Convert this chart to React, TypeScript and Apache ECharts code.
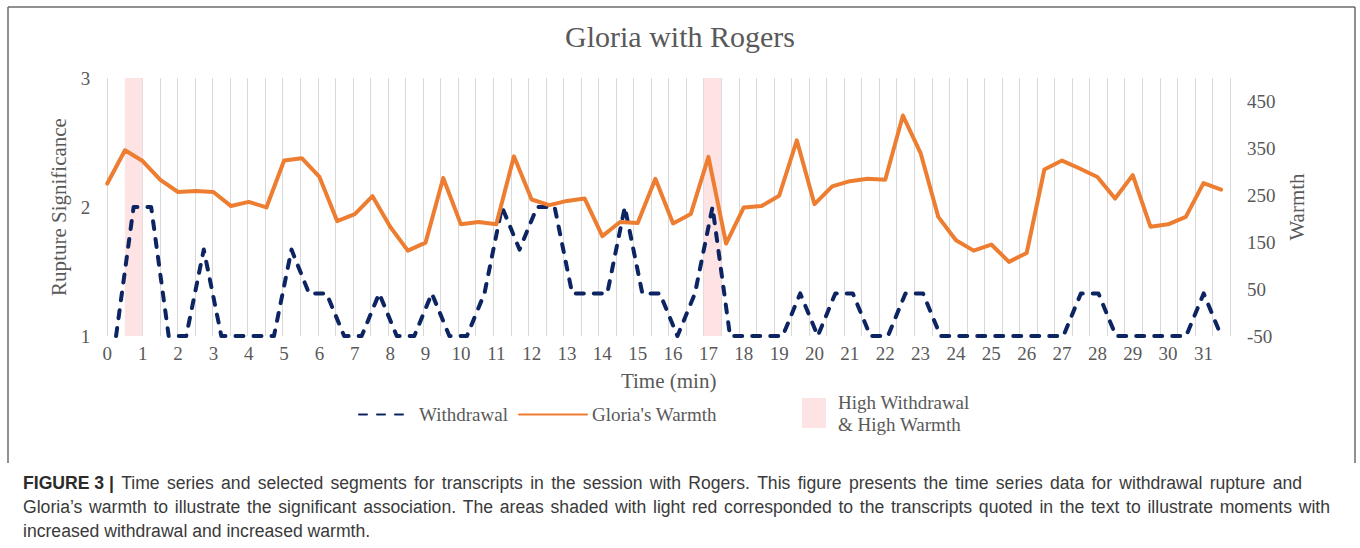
import React, { useEffect, useRef } from 'react';
import * as echarts from 'echarts';

const CHART_TITLE = 'Gloria with Rogers';
const LEFT_AXIS_NAME = 'Rupture Significance';
const RIGHT_AXIS_NAME = 'Warmth';
const X_AXIS_NAME = 'Time (min)';

// Gloria's warmth, one value per half minute (0, 0.5, ..., 31.5)
const warmth = [
  275, 346, 323, 283, 257, 259, 257, 227, 236, 224,
  324, 329, 289, 195, 210, 248, 183, 132, 149, 287,
  188, 193, 188, 333, 241, 229, 238, 243, 163, 193,
  191, 285, 190, 210, 332, 147, 224, 227, 249, 367,
  231, 269, 280, 285, 283, 420, 340, 204, 154, 132,
  145, 108, 127, 305, 324, 307, 289, 243, 293, 183,
  188, 204, 276, 262,
];
const warmthStep = 0.5; // minutes between warmth samples

// Withdrawal rupture significance, one value per transcript segment
const withdrawal = [
  1, 2, 2, 1, 1, 1.67, 1, 1, 1, 1,
  1.67, 1.33, 1.33, 1, 1, 1.33, 1, 1, 1.33, 1,
  1, 1.33, 2, 1.67, 2, 2, 1.33, 1.33, 1.33, 2,
  1.33, 1.33, 1, 1.33, 2, 1, 1, 1, 1, 1.33,
  1, 1.33, 1.33, 1, 1, 1.33, 1.33, 1, 1, 1,
  1, 1, 1, 1, 1, 1.33, 1.33, 1, 1, 1,
  1, 1, 1.33, 1,
];
const segmentIds = withdrawal.map((_, i) => 'S' + (i + 1));

// segments shaded light red (high withdrawal & high warmth)
const highSegments = [1, 34];

const leftTicks = { min: 1, max: 3, interval: 1 };
const rightTicks = { min: -50, max: 500, interval: 100 };
const timeRange = { min: 0, max: 31.75, interval: 1 };

const CAPTION_LABEL = 'FIGURE 3 |';
const CAPTION_LINES = [
  'Time series and selected segments for transcripts in the session with Rogers. This figure presents the time series data for withdrawal rupture and',
  "Gloria\u2019s warmth to illustrate the significant association. The areas shaded with light red corresponded to the transcripts quoted in the text to illustrate moments with",
  'increased withdrawal and increased warmth.',
];

const SERIF = "'Liberation Serif', 'Times New Roman', serif";
const SANS = "'Liberation Sans', Arial, sans-serif";
const GREY = '#595959';
const ORANGE = '#ED7D31';
const NAVY = '#0c2461';
const SHADE = '#FDE3E4';
const CAPTION_SIZE = 17.6;
const CAPTION_COLOR = '#3a3a3a';

function measure(text: string, bold: boolean) {
  const c = document.createElement('canvas').getContext('2d');
  if (!c) return text.length * CAPTION_SIZE * 0.5;
  c.font = (bold ? 'bold ' : '') + CAPTION_SIZE + "px 'Liberation Sans', Arial, sans-serif";
  return c.measureText(text).width;
}

// caption line whose word gaps are widened so that it ends where the original does
function spread(line: string, prefix: string, startX: number, endX: number) {
  const words = line.split(' ');
  const prefixW = prefix ? measure(prefix, true) : 0;
  const wordsW = words.reduce((s, w) => s + measure(w, false), 0);
  const gaps = words.length - 1 + (prefix ? 1 : 0);
  const gap = Math.max(3, (endX - startX - prefixW - wordsW) / gaps);
  let text = prefix ? '{b|' + prefix + '}{s| }' : '';
  text += words.join('{s| }');
  return {
    text,
    rich: {
      b: { fontFamily: SANS, fontSize: CAPTION_SIZE, fontWeight: 'bold', fill: '#2b2b2b' },
      s: { fontFamily: SANS, fontSize: CAPTION_SIZE, width: gap },
    },
  };
}

export default function App() {
  const ref = useRef<HTMLDivElement>(null);

  useEffect(() => {
    document.body.style.margin = '0';
    if (!ref.current) return;
    const chart = echarts.init(ref.current, null, { renderer: 'svg' });

    const labelStyle = { color: GREY, fontFamily: SERIF, fontSize: 19 };
    const nameStyle = { color: GREY, fontFamily: SERIF, fontSize: 21 };
    const hiddenSymbol = { color: 'rgba(0,0,0,0)', borderWidth: 0, opacity: 0 };

    const cap1 = spread(CAPTION_LINES[0], CAPTION_LABEL, 23, 1302);
    const cap2 = spread(CAPTION_LINES[1], '', 23, 1330);

    const option: any = {
      animation: false,
      backgroundColor: '#ffffff',
      title: {
        text: CHART_TITLE,
        left: 'center',
        top: 16,
        textStyle: { color: GREY, fontFamily: SERIF, fontSize: 30, fontWeight: 'normal' },
      },
      grid: { left: 107.3, right: 130, top: 78, bottom: 212, containLabel: false },
      xAxis: [
        {
          type: 'value',
          min: timeRange.min,
          max: timeRange.max,
          interval: timeRange.interval,
          position: 'bottom',
          axisLine: { show: false },
          axisTick: { show: false },
          splitLine: { show: false },
          axisLabel: {
            ...labelStyle,
            margin: 8,
            showMaxLabel: false,
            formatter: (v: number) => (Number.isInteger(v) ? String(v) : ''),
          },
          name: X_AXIS_NAME,
          nameLocation: 'middle',
          nameGap: 34,
          nameTextStyle: nameStyle,
        },
        {
          type: 'category',
          data: segmentIds,
          boundaryGap: true,
          position: 'top',
          axisLine: { show: false },
          axisTick: { show: false },
          axisLabel: { show: false },
          splitLine: { show: true, interval: 0, lineStyle: { color: '#d9d9d9', width: 1 } },
        },
      ],
      yAxis: [
        {
          type: 'value',
          ...leftTicks,
          position: 'left',
          axisLine: { show: false },
          axisTick: { show: false },
          splitLine: { show: false },
          axisLabel: { ...labelStyle, margin: 17 },
          name: LEFT_AXIS_NAME,
          nameLocation: 'middle',
          nameRotate: 90,
          nameGap: 27,
          nameTextStyle: nameStyle,
        },
        {
          type: 'value',
          ...rightTicks,
          position: 'right',
          axisLine: { show: false },
          axisTick: { show: false },
          splitLine: { show: false },
          axisLabel: { ...labelStyle, margin: 17, showMaxLabel: false },
          name: RIGHT_AXIS_NAME,
          nameLocation: 'middle',
          nameRotate: 90,
          nameGap: 53,
          nameTextStyle: nameStyle,
        },
      ],
      legend: [
        {
          data: ['Withdrawal'],
          left: 358,
          top: 405,
          itemWidth: 50,
          itemHeight: 20,
          padding: 0,
          selectedMode: false,
          itemStyle: hiddenSymbol,
          textStyle: { color: GREY, fontFamily: SERIF, fontSize: 19, padding: [0, 0, 0, 5] },
        },
        {
          data: ["Gloria's Warmth"],
          left: 518,
          top: 405,
          itemWidth: 68,
          itemHeight: 20,
          padding: 0,
          selectedMode: false,
          itemStyle: hiddenSymbol,
          textStyle: { color: GREY, fontFamily: SERIF, fontSize: 19 },
        },
        {
          data: ['High Withdrawal & High Warmth'],
          left: 802,
          top: 391,
          itemWidth: 24,
          itemHeight: 30,
          icon: 'rect',
          padding: 0,
          selectedMode: false,
          formatter: () => 'High Withdrawal\n& High Warmth',
          textStyle: { color: GREY, fontFamily: SERIF, fontSize: 19, lineHeight: 22, padding: [0, 0, 0, 7] },
        },
      ],
      series: [
        {
          name: 'High Withdrawal & High Warmth',
          type: 'bar',
          xAxisIndex: 1,
          yAxisIndex: 0,
          barWidth: '100%',
          silent: true,
          z: 1,
          itemStyle: { color: SHADE },
          data: withdrawal.map((_, i) => (highSegments.includes(i) ? leftTicks.max : '-')),
        },
        {
          name: 'Withdrawal',
          type: 'line',
          xAxisIndex: 1,
          yAxisIndex: 0,
          symbol: 'none',
          silent: true,
          z: 3,
          lineStyle: { color: NAVY, width: 4, type: [8, 10], cap: 'round', join: 'round' },
          itemStyle: { color: NAVY },
          data: withdrawal,
        },
        {
          name: "Gloria's Warmth",
          type: 'line',
          xAxisIndex: 0,
          yAxisIndex: 1,
          symbol: 'none',
          silent: true,
          z: 4,
          lineStyle: { color: ORANGE, width: 4, cap: 'round', join: 'round' },
          itemStyle: { color: ORANGE },
          data: warmth.map((v, i) => [i * warmthStep, v]),
        },
      ],
      graphic: [
        { type: 'line', silent: true, shape: { x1: 8, y1: 7, x2: 1355, y2: 7 }, style: { stroke: '#6b6b6b', lineWidth: 1.5 } },
        { type: 'line', silent: true, shape: { x1: 8, y1: 7, x2: 8, y2: 463 }, style: { stroke: '#6b6b6b', lineWidth: 1.5 } },
        { type: 'line', silent: true, shape: { x1: 1355, y1: 7, x2: 1355, y2: 463 }, style: { stroke: '#6b6b6b', lineWidth: 1.5 } },
        {
          type: 'text',
          silent: true,
          x: 23,
          y: 483,
          style: {
            text: cap1.text,
            rich: cap1.rich,
            fontFamily: SANS,
            fontSize: CAPTION_SIZE,
            fill: CAPTION_COLOR,
            verticalAlign: 'middle',
          },
        },
        {
          type: 'text',
          silent: true,
          x: 23,
          y: 507,
          style: {
            text: cap2.text,
            rich: cap2.rich,
            fontFamily: SANS,
            fontSize: CAPTION_SIZE,
            fill: CAPTION_COLOR,
            verticalAlign: 'middle',
          },
        },
        {
          type: 'text',
          silent: true,
          x: 23,
          y: 531,
          style: { text: CAPTION_LINES[2], fontFamily: SANS, fontSize: CAPTION_SIZE, fill: CAPTION_COLOR, verticalAlign: 'middle' },
        },
      ],
    };

    chart.setOption(option);
    return () => chart.dispose();
  }, []);

  return <div ref={ref} style={{ width: 1360, height: 548 }} />;
}
